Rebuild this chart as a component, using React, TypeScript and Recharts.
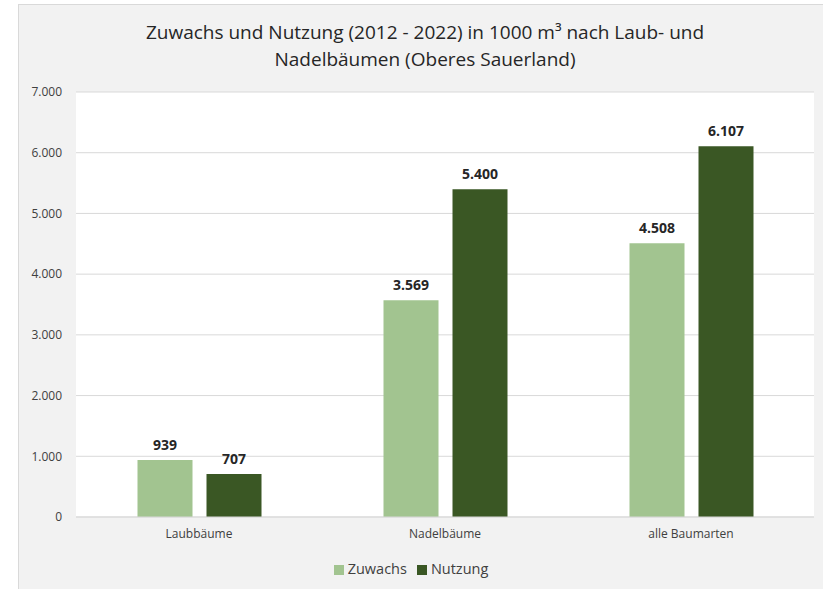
import { BarChart, Bar, XAxis, YAxis, CartesianGrid, Legend, LabelList } from 'recharts';

const categories = ['Laubbäume', 'Nadelbäume', 'alle Baumarten'];
const zuwachs = [939, 3569, 4508];
const nutzung = [707, 5400, 6107];
const yTicks = [0, 1000, 2000, 3000, 4000, 5000, 6000, 7000];
const seriesOrder = ['Zuwachs', 'Nutzung'];

const data = categories.map((name, i) => ({ name, zuwachs: zuwachs[i], nutzung: nutzung[i] }));

// german thousands separator
const fmt = (v: number) => String(v).replace(/\B(?=(\d{3})+(?!\d))/g, '.');

const font = '"Open Sans", sans-serif';

export default function App() {
  return (
    <div style={{ position: 'absolute', left: 0, top: 0, width: 823, height: 589, background: '#fff', fontFamily: font }}>
      <div
        style={{
          position: 'absolute',
          left: 18,
          top: 4,
          width: 805,
          height: 585,
          background: '#f2f2f2',
          boxShadow: 'inset 1px 1px 0 #d9d9d9',
        }}
      >
        <div
          style={{
            position: 'absolute',
            top: 15,
            left: 9,
            width: 796,
            textAlign: 'center',
            fontSize: 19,
            lineHeight: '27px',
            color: '#262626',
          }}
        >
          Zuwachs und Nutzung (2012 - 2022) in 1000 m³ nach Laub- und
          <br />
          Nadelbäumen (Oberes Sauerland)
        </div>
        <BarChart
          width={805}
          height={585}
          data={data}
          margin={{ top: 88, right: 9, left: 0, bottom: 10 }}
          barCategoryGap="25%"
          barGap={14}
          style={{ position: 'absolute', left: 0, top: 0 }}
        >
          <CartesianGrid vertical={false} stroke="#d9d9d9" fill="#ffffff" />
          <XAxis
            dataKey="name"
            height={40}
            tickLine={false}
            axisLine={{ stroke: '#d9d9d9' }}
            tickMargin={6}
            tick={{ fontSize: 12, fill: '#404040', fontFamily: font }}
          />
          <YAxis
            width={58}
            domain={[0, 7000]}
            ticks={yTicks}
            axisLine={false}
            tickLine={false}
            tickMargin={8}
            tickFormatter={fmt}
            tick={{ fontSize: 12, fill: '#404040', fontFamily: font }}
          />
          <Legend
            verticalAlign="bottom"
            iconType="square"
            iconSize={10}
            itemSorter={(item: any) => seriesOrder.indexOf(item.value)}
            formatter={(value) => <span style={{ color: '#404040', fontSize: 14.5 }}>{value}</span>}
          />
          <Bar dataKey="zuwachs" name="Zuwachs" fill="#a2c490" isAnimationActive={false}>
            <LabelList
              dataKey="zuwachs"
              position="top"
              offset={10}
              formatter={(v: any) => fmt(v as number)}
              style={{ fontSize: 14, fontWeight: 700, fill: '#262626', fontFamily: font }}
            />
          </Bar>
          <Bar dataKey="nutzung" name="Nutzung" fill="#3a5724" isAnimationActive={false}>
            <LabelList
              dataKey="nutzung"
              position="top"
              offset={10}
              formatter={(v: any) => fmt(v as number)}
              style={{ fontSize: 14, fontWeight: 700, fill: '#262626', fontFamily: font }}
            />
          </Bar>
        </BarChart>
      </div>
    </div>
  );
}
